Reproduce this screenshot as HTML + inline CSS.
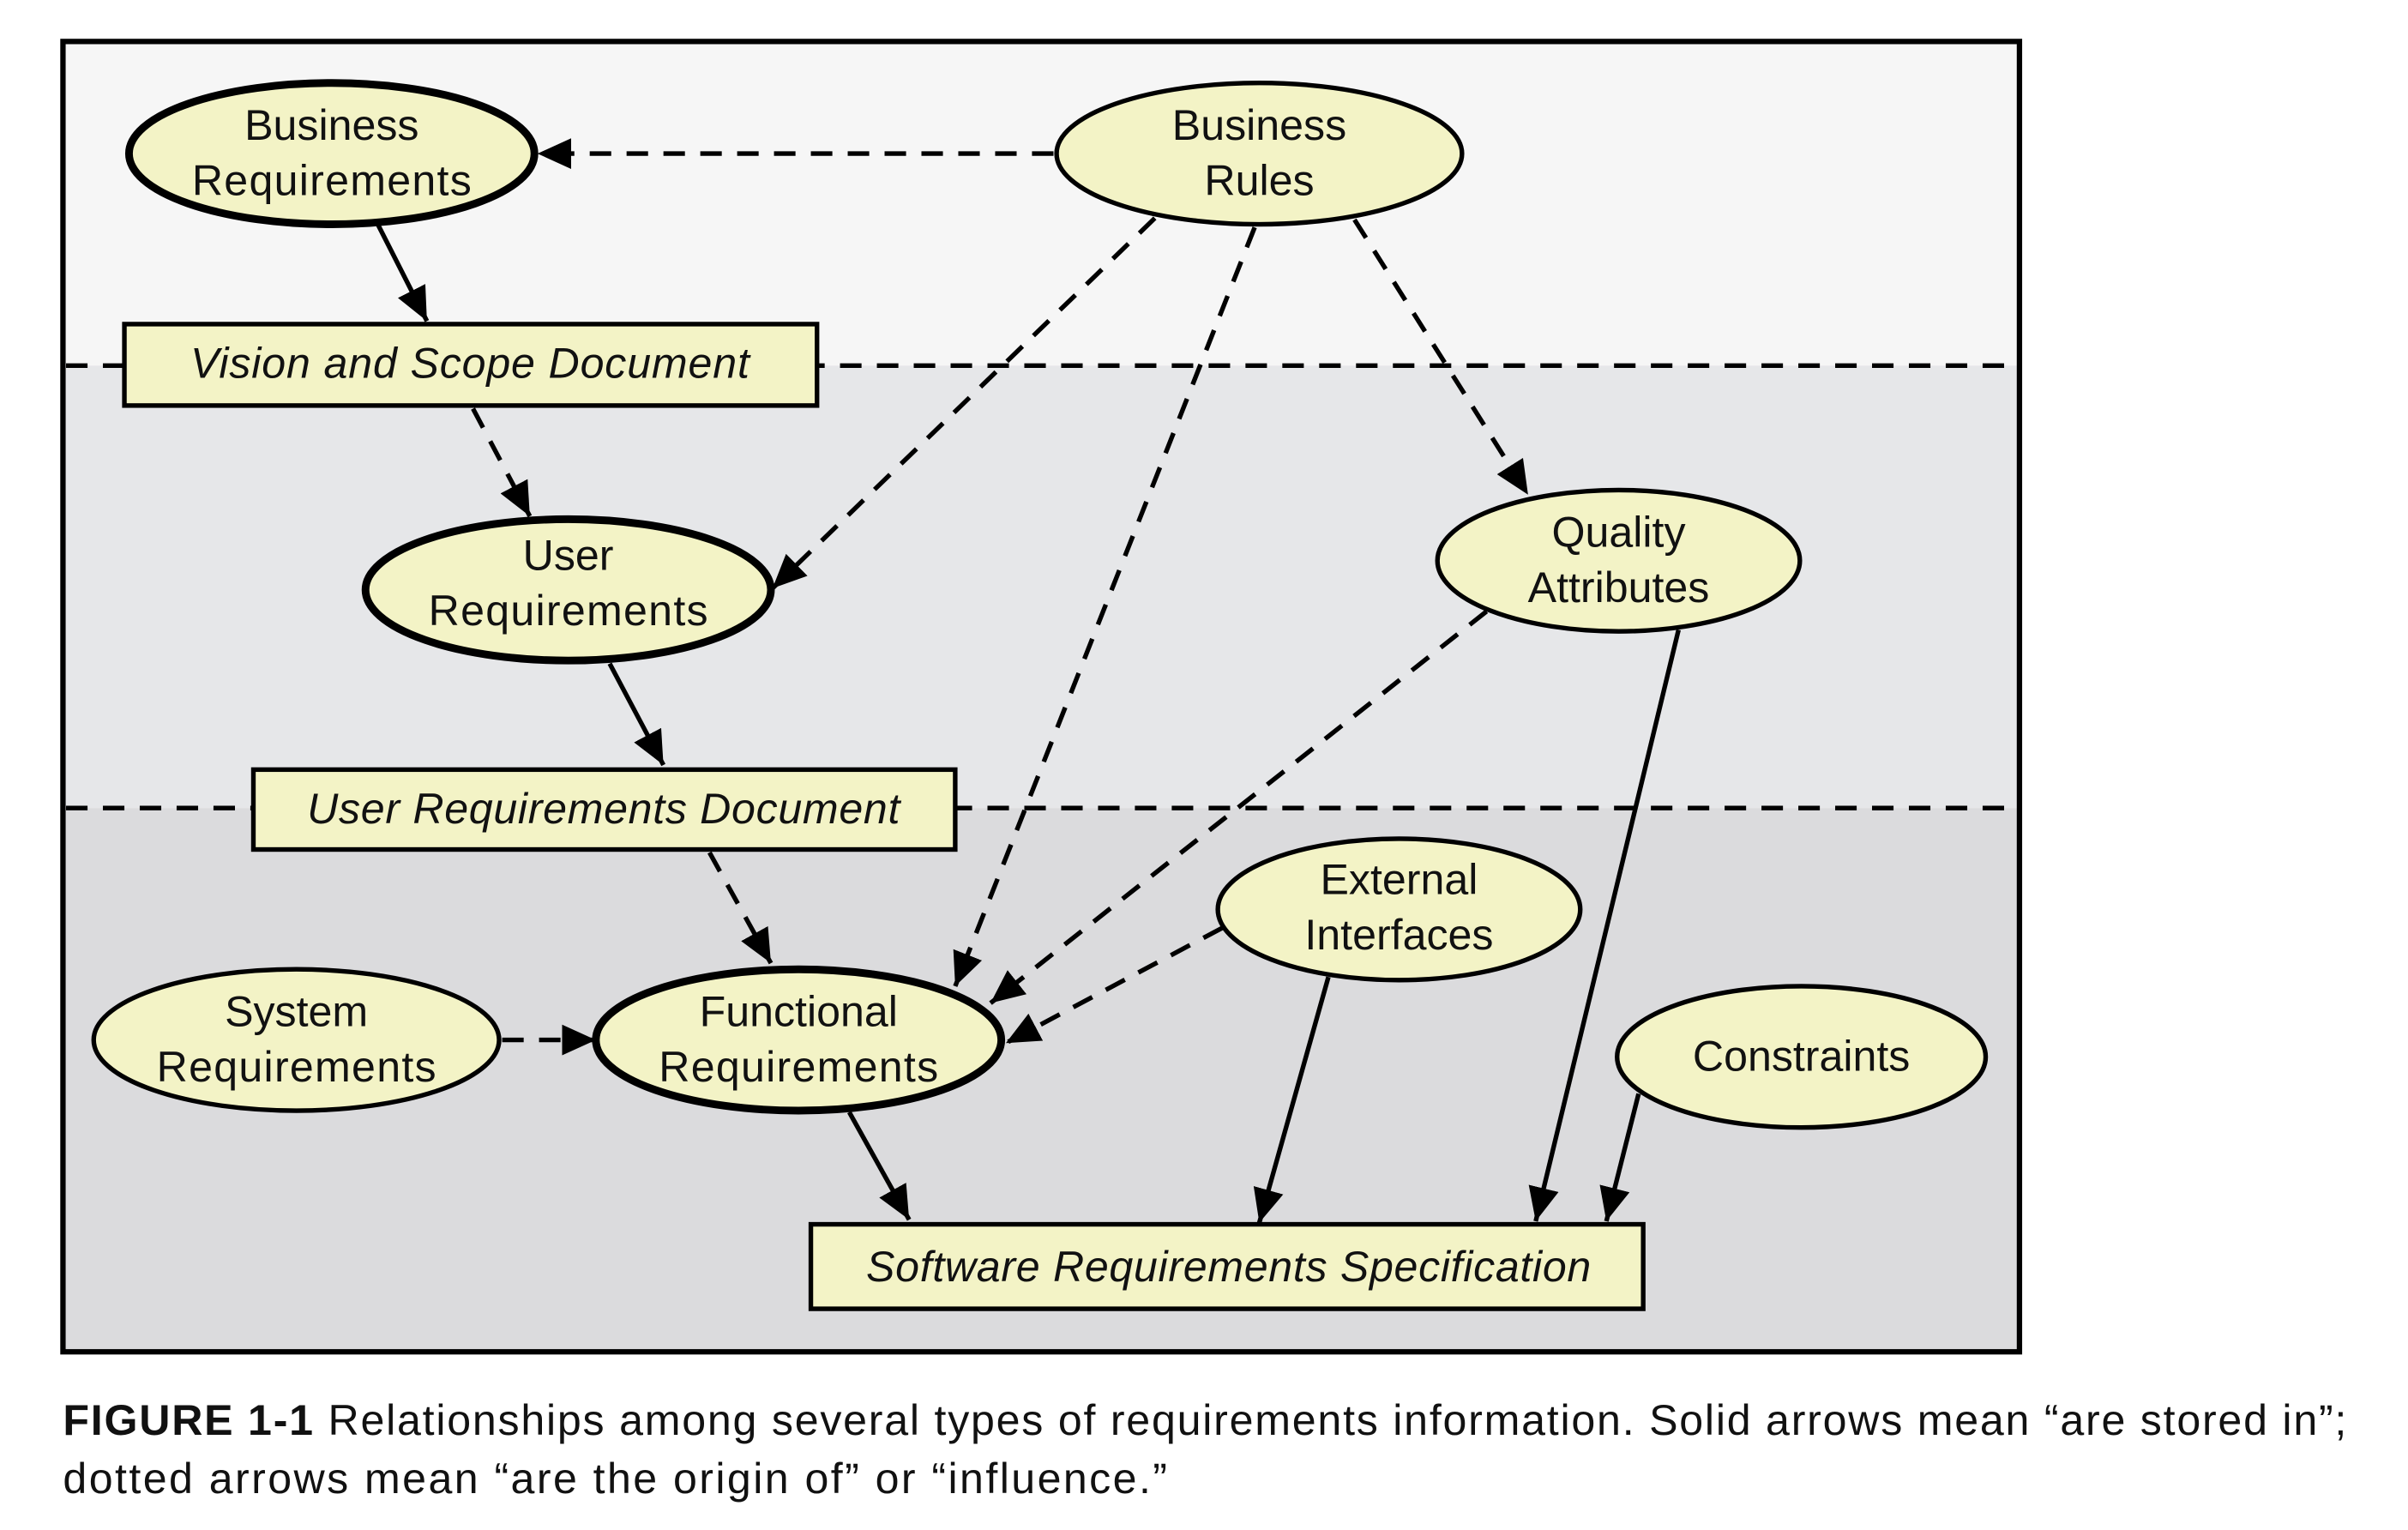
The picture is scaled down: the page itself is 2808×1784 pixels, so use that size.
<!DOCTYPE html>
<html><head><style>
html,body{margin:0;padding:0;background:#fff;width:2808px;height:1784px;overflow:hidden}
svg{display:block}
text{font-family:"Liberation Sans",sans-serif;fill:#111}
</style></head><body>
<svg width="2808" height="1784" viewBox="0 0 1568 996" preserveAspectRatio="none" xmlns="http://www.w3.org/2000/svg">
<defs>
<marker id="a" markerUnits="userSpaceOnUse" markerWidth="24" markerHeight="20" refX="22" refY="10" orient="auto">
<path d="M0,0 L22,10 L0,20 Z" fill="#000"/></marker>
</defs>
<rect x="41" y="27" width="1274" height="211" fill="#f6f6f6"/>
<rect x="41" y="238" width="1274" height="288" fill="#e6e7e9"/>
<rect x="41" y="526" width="1274" height="354" fill="#dbdbdd"/>
<g stroke="#000" stroke-width="3" stroke-dasharray="14,10" fill="none">
<line x1="43" y1="238" x2="1313" y2="238"/>
<line x1="43" y1="526" x2="1313" y2="526"/>
</g>
<rect x="41" y="27" width="1274" height="853" fill="none" stroke="#000" stroke-width="3.5"/>

<g stroke="#000" stroke-width="3" fill="none">
<g stroke-dasharray="14,10">
<line x1="686" y1="100" x2="350" y2="100" marker-end="url(#a)"/>
<line x1="308" y1="266" x2="345" y2="336" marker-end="url(#a)"/>
<line x1="752" y1="142" x2="503" y2="383" marker-end="url(#a)"/>
<line x1="817" y1="148" x2="622" y2="642" marker-end="url(#a)"/>
<line x1="882" y1="143" x2="995" y2="322" marker-end="url(#a)"/>
<line x1="462" y1="555" x2="502" y2="627" marker-end="url(#a)"/>
<line x1="968" y1="398" x2="645" y2="653" marker-end="url(#a)"/>
<line x1="796" y1="604" x2="655" y2="679" marker-end="url(#a)"/>
<line x1="327" y1="677" x2="388" y2="677" marker-end="url(#a)"/>
</g>
<line x1="246" y1="146" x2="278" y2="209" marker-end="url(#a)"/>
<line x1="397" y1="432" x2="432" y2="498" marker-end="url(#a)"/>
<line x1="553" y1="724" x2="592" y2="794" marker-end="url(#a)"/>
<line x1="865" y1="636" x2="820" y2="796" marker-end="url(#a)"/>
<line x1="1093" y1="410" x2="1000" y2="795" marker-end="url(#a)"/>
<line x1="1067" y1="712" x2="1046" y2="795" marker-end="url(#a)"/>
</g>

<g fill="#f3f3c6" stroke="#000">
<ellipse cx="216" cy="100" rx="132" ry="46" stroke-width="5"/>
<ellipse cx="820" cy="100" rx="132" ry="46" stroke-width="3"/>
<ellipse cx="370" cy="384" rx="132" ry="46" stroke-width="5"/>
<ellipse cx="1054" cy="365" rx="118" ry="46" stroke-width="3"/>
<ellipse cx="911" cy="592" rx="118" ry="46" stroke-width="3"/>
<ellipse cx="193" cy="677" rx="132" ry="46" stroke-width="3"/>
<ellipse cx="520" cy="677" rx="132" ry="46" stroke-width="5"/>
<ellipse cx="1173" cy="688" rx="120" ry="46" stroke-width="3"/>
<rect x="81" y="211" width="451" height="53" stroke-width="3"/>
<rect x="165" y="501" width="457" height="52" stroke-width="3"/>
<rect x="528" y="797" width="542" height="55" stroke-width="3"/>
</g>

<g font-size="28" text-anchor="middle">
<text x="216" y="91">Business</text><text x="216" y="127" textLength="182">Requirements</text>
<text x="820" y="91">Business</text><text x="820" y="127">Rules</text>
<text x="370" y="371">User</text><text x="370" y="407" textLength="182">Requirements</text>
<text x="1054" y="356">Quality</text><text x="1054" y="392">Attributes</text>
<text x="911" y="582">External</text><text x="911" y="618">Interfaces</text>
<text x="193" y="668">System</text><text x="193" y="704" textLength="182">Requirements</text>
<text x="520" y="668">Functional</text><text x="520" y="704" textLength="182">Requirements</text>
<text x="1173" y="697">Constraints</text>
<text x="306" y="246" font-style="italic" textLength="364">Vision and Scope Document</text>
<text x="393" y="536" font-style="italic" textLength="386">User Requirements Document</text>
<text x="800" y="834" font-style="italic" textLength="472">Software Requirements Specification</text>
</g>
<g font-size="28">
<text x="41" y="934" textLength="1487"><tspan font-weight="bold">FIGURE 1-1</tspan>  Relationships among several types of requirements information. Solid arrows mean “are stored in”;</text>
<text x="41" y="972" textLength="719">dotted arrows mean “are the origin of” or “influence.”</text>
</g>
</svg>
</body></html>
